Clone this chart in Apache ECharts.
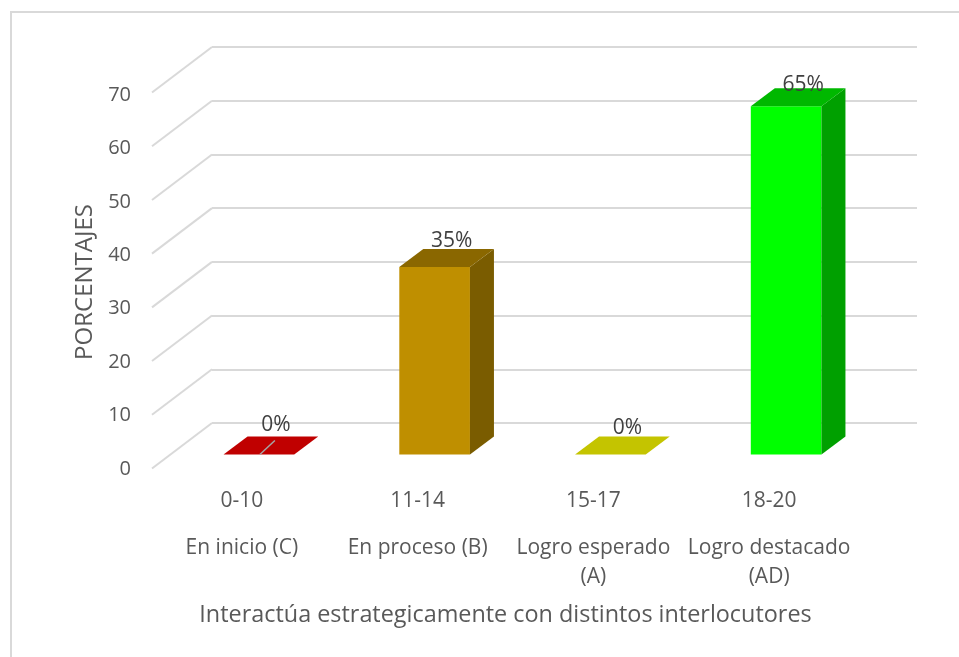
<!DOCTYPE html>
<html>
<head>
<meta charset="utf-8">
<title>Interactúa estrategicamente</title>
<script src="https://cdn.jsdelivr.net/npm/echarts@6/dist/echarts.min.js"></script>
<style>
  html, body { margin: 0; padding: 0; background: #fff; }
  #chart { width: 959px; height: 657px; }
</style>
</head>
<body>
<div id="chart"></div>
<script>
const ranges = ['0-10', '11-14', '15-17', '18-20'];
const levels = ['En inicio (C)', 'En proceso (B)', 'Logro esperado\n(A)', 'Logro destacado\n(AD)'];
const percentages = [0, 35, 0, 65];
const yTicks = [0, 10, 20, 30, 40, 50, 60, 70];
const frontColors = ['#c00000', '#bf8f00', '#c4c400', '#00ff00'];
const topColors = ['#c00000', '#8a6700', '#c4c400', '#00b800'];
const sideColors = ['#900000', '#7a5c00', '#a0a000', '#00a000'];
const labelLift = [11, 8, 8, 3];

const textColor = '#595959';
const gridColor = '#d9d9d9';
const font = '"Open Sans", sans-serif';
const depthX = 24;
const depthY = 18;

const chart = echarts.init(document.getElementById('chart'));

function poly(points, color) {
  return { type: 'polygon', shape: { points: points }, style: { fill: color } };
}

// each bar is a front face plus a top and a side parallelogram
function renderBar(params, api) {
  const i = api.value(0);
  const val = api.value(1);
  const base = api.coord([i, 0]);
  const top = api.coord([i, val]);
  const w = api.size([1, 0])[0] * 0.402;
  const x0 = base[0] - w / 2;
  const x1 = base[0] + w / 2;
  const y0 = base[1];
  const y1 = top[1];
  const children = [];
  if (val > 0) {
    children.push(poly([[x0, y0], [x1, y0], [x1, y1], [x0, y1]], frontColors[i]));
    children.push(poly([[x1, y0], [x1 + depthX, y0 - depthY], [x1 + depthX, y1 - depthY], [x1, y1]], sideColors[i]));
  }
  children.push(poly([[x0, y1], [x1, y1], [x1 + depthX, y1 - depthY], [x0 + depthX, y1 - depthY]], topColors[i]));
  if (i === 0) {
    children.push({
      type: 'line',
      shape: { x1: base[0] + 1, y1: y0, x2: base[0] + 16, y2: y0 - 14 },
      style: { stroke: '#a6a6a6', lineWidth: 1.5 }
    });
  }
  children.push({
    type: 'text',
    style: {
      x: base[0] + 17,
      y: y1 - depthY - labelLift[i],
      text: val + '%',
      fill: '#404040',
      font: '21px ' + font,
      align: 'center',
      verticalAlign: 'middle'
    }
  });
  return { type: 'group', children: children };
}

// slanted side lines going from the front plane to the back wall
function renderSideLine(params, api) {
  const back = api.coord([0, api.value(0)]);
  const left = back[0] - api.size([1, 0])[0] / 2;
  return {
    type: 'line',
    shape: { x1: left, y1: back[1], x2: left - 60, y2: back[1] + 45.5 },
    style: { stroke: gridColor, lineWidth: 2 }
  };
}

const option = {
  animation: false,
  backgroundColor: '#ffffff',
  textStyle: { fontFamily: font },
  graphic: [{
    type: 'polyline',
    shape: { points: [[11, 657], [11, 12], [959, 12]] },
    style: { stroke: '#d9d9d9', lineWidth: 2, fill: null },
    silent: true
  }],
  grid: [
    { left: 212, top: 47, width: 705, height: 376 }, // back wall
    { left: 154, top: 95, width: 703, height: 374 }, // front plane, carries the labels
    { left: 171, top: 79.5, width: 703, height: 375 } // plane the bars stand on
  ],
  xAxis: [
    { gridIndex: 0, type: 'category', data: ranges, show: false },
    {
      gridIndex: 1, type: 'category', data: ranges,
      axisLine: { show: false }, axisTick: { show: false },
      axisLabel: { color: textColor, fontSize: 21, margin: 22, fontFamily: font, interval: 0 },
      name: 'Interactúa estrategicamente con distintos interlocutores',
      nameLocation: 'middle', nameGap: 135,
      nameTextStyle: { color: textColor, fontSize: 23.4, fontFamily: font }
    },
    {
      gridIndex: 1, type: 'category', data: levels, position: 'bottom', offset: 65,
      axisLine: { show: false }, axisTick: { show: false },
      axisLabel: { color: textColor, fontSize: 21, lineHeight: 29, margin: 0, fontFamily: font, interval: 0 }
    },
    { gridIndex: 2, type: 'category', data: ranges, show: false }
  ],
  yAxis: [
    {
      gridIndex: 0, type: 'value', min: 0, max: 70, interval: 10,
      axisLabel: { show: false }, axisLine: { show: false }, axisTick: { show: false },
      splitLine: { show: true, lineStyle: { color: gridColor, width: 2 } }
    },
    {
      gridIndex: 1, type: 'value', min: 0, max: 70, interval: 10,
      axisLine: { show: false }, axisTick: { show: false }, splitLine: { show: false },
      axisLabel: { color: textColor, fontSize: 20, margin: 23, fontFamily: font },
      name: 'PORCENTAJES', nameLocation: 'middle', nameGap: 55,
      nameTextStyle: { color: textColor, fontSize: 24, fontFamily: font }
    },
    {
      gridIndex: 2, type: 'value', min: 0, max: 70, interval: 10, show: false,
      splitLine: { show: false }
    }
  ],
  series: [
    {
      type: 'custom', xAxisIndex: 0, yAxisIndex: 0, renderItem: renderSideLine,
      encode: { y: 0 }, data: yTicks.map(v => [v]), silent: true, z: 1
    },
    {
      type: 'custom', xAxisIndex: 3, yAxisIndex: 2, renderItem: renderBar,
      encode: { x: 0, y: 1 }, data: percentages.map((v, i) => [i, v]), z: 3
    }
  ]
};

chart.setOption(option);
</script>
</body>
</html>
